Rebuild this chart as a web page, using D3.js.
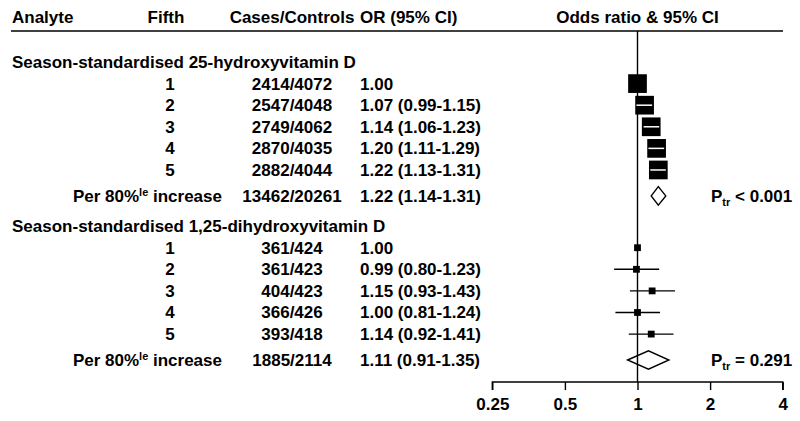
<!DOCTYPE html>
<html>
<head>
<meta charset="utf-8">
<script src="https://cdn.jsdelivr.net/npm/d3@7"></script>
<style>
  body { margin: 0; background: #fff; }
  text { font-family: "Liberation Sans", Arial, Helvetica, sans-serif; font-weight: bold; fill: #000; }
</style>
</head>
<body>
<div id="chart"></div>
<script>
// column headers
const headers = ["Analyte", "Fifth", "Cases/Controls", "OR (95% CI)", "Odds ratio & 95% CI"];
const tickValues = [0.25, 0.5, 1, 2, 4];
const tickLabels = ["0.25", "0.5", "1", "2", "4"];

// analyte names
const analytes = ["Season-standardised 25-hydroxyvitamin D", "Season-standardised 1,25-dihydroxyvitamin D"];
const fifths = ["1", "2", "3", "4", "5"];

// 25(OH)D by fifth
const cases25 = ["2414/4072", "2547/4048", "2749/4062", "2870/4035", "2882/4044"];
const or25 = [1.00, 1.07, 1.14, 1.20, 1.22];
const lo25 = [null, 0.99, 1.06, 1.11, 1.13];
const hi25 = [null, 1.15, 1.23, 1.29, 1.31];

// 1,25(OH)2D by fifth
const cases125 = ["361/424", "361/423", "404/423", "366/426", "393/418"];
const or125 = [1.00, 0.99, 1.15, 1.00, 1.14];
const lo125 = [null, 0.80, 0.93, 0.81, 0.92];
const hi125 = [null, 1.23, 1.43, 1.24, 1.41];

// per 80 percentile increase
const perCases = ["13462/20261", "1885/2114"];
const perOr = [1.22, 1.11];
const perLo = [1.14, 0.91];
const perHi = [1.31, 1.35];
const pTrend = ["< 0.001", "= 0.291"];

const width = 800, height = 421;
const svg = d3.select("#chart").append("svg")
    .attr("width", width)
    .attr("height", height);

const fs = 17;
const x = d3.scaleLog().base(2).domain([0.25, 4]).range([492.3, 782.7]);
// row slots -> pixels
const y = d3.scaleLinear().domain([0, 13.8]).range([62, 360]);
const colFifth = 170, colCases = 292, colOr = 360, colPerEnd = 222, colP = 711;
const f2 = d3.format(".2f");

// header
const hdr = svg.append("g");
hdr.append("text").attr("x", 12).attr("y", 23).attr("font-size", fs).text(headers[0]);
hdr.append("text").attr("x", 166).attr("y", 23).attr("text-anchor", "middle").attr("font-size", fs).text(headers[1]);
hdr.append("text").attr("x", colCases).attr("y", 23).attr("text-anchor", "middle").attr("font-size", fs).text(headers[2]);
hdr.append("text").attr("x", colOr).attr("y", 23).attr("font-size", fs).text(headers[3]);
hdr.append("text").attr("x", x(1)).attr("y", 23).attr("text-anchor", "middle").attr("font-size", fs).text(headers[4]);

svg.append("line")
    .attr("x1", 11).attr("x2", 783)
    .attr("y1", 31).attr("y2", 31)
    .attr("stroke", "#000").attr("stroke-width", 1.7);

// null line
svg.append("line")
    .attr("x1", x(1)).attr("x2", x(1))
    .attr("y1", 31).attr("y2", 382)
    .attr("stroke", "#000").attr("stroke-width", 1.4);

// axis
const axis = d3.axisBottom(x)
    .tickValues(tickValues)
    .tickSize(8)
    .tickFormat((d, i) => tickLabels[i]);
const ax = svg.append("g")
    .attr("transform", "translate(0,382)")
    .call(axis);
ax.select(".domain").attr("stroke-width", 1.4).attr("d", `M${x(0.25)},8V0H${x(4)}V8`);
ax.selectAll(".tick line").attr("stroke-width", 1.4);
ax.selectAll(".tick text")
    .attr("font-size", fs)
    .attr("font-family", "Liberation Sans, Arial, sans-serif")
    .attr("font-weight", "bold")
    .attr("dy", null)
    .attr("y", 28);

const groups = [
  { name: analytes[0], cases: cases25, or: or25, lo: lo25, hi: hi25, box: 18.7, start: 0 },
  { name: analytes[1], cases: cases125, or: or125, lo: lo125, hi: hi125, box: 6.8, start: 7.6 }
];

groups.forEach((g, gi) => {
  const gy = y(g.start);
  svg.append("text").attr("x", 12).attr("y", gy + 6).attr("font-size", fs).text(g.name);

  fifths.forEach((f, i) => {
    const ry = y(g.start + 1 + i);
    svg.append("text").attr("x", colFifth).attr("y", ry + 6).attr("text-anchor", "middle").attr("font-size", fs).text(f);
    svg.append("text").attr("x", colCases).attr("y", ry + 6).attr("text-anchor", "middle").attr("font-size", fs).text(g.cases[i]);
    const orTxt = g.lo[i] == null ? f2(g.or[i]) : `${f2(g.or[i])} (${f2(g.lo[i])}-${f2(g.hi[i])})`;
    svg.append("text").attr("x", colOr).attr("y", ry + 6).attr("font-size", fs).text(orTxt);

    const cx = x(g.or[i]);
    const half = g.box / 2;
    let inside = false;
    if (g.lo[i] != null) {
      inside = x(g.lo[i]) >= cx - half && x(g.hi[i]) <= cx + half;
      if (!inside) {
        svg.append("line")
          .attr("x1", x(g.lo[i])).attr("x2", x(g.hi[i]))
          .attr("y1", ry).attr("y2", ry)
          .attr("stroke", "#000").attr("stroke-width", 1.4);
      }
    }
    svg.append("rect")
      .attr("x", cx - half).attr("y", ry - half)
      .attr("width", g.box).attr("height", g.box)
      .attr("fill", "#000");
    if (inside) {
      svg.append("line")
        .attr("x1", x(g.lo[i])).attr("x2", x(g.hi[i]))
        .attr("y1", ry).attr("y2", ry)
        .attr("stroke", "#fff").attr("stroke-width", 1.5);
    }
  });

  // summary row
  const sy = y(g.start + 6.2);
  const per = svg.append("text").attr("x", colPerEnd).attr("y", sy + 6).attr("text-anchor", "end").attr("font-size", fs);
  per.append("tspan").text("Per 80%");
  per.append("tspan").attr("font-size", 11).attr("dy", -6).text("le");
  per.append("tspan").attr("dy", 6).text(" increase");
  svg.append("text").attr("x", colCases).attr("y", sy + 6).attr("text-anchor", "middle").attr("font-size", fs).text(perCases[gi]);
  svg.append("text").attr("x", colOr).attr("y", sy + 6).attr("font-size", fs)
    .text(`${f2(perOr[gi])} (${f2(perLo[gi])}-${f2(perHi[gi])})`);

  const dh = 9.2;
  svg.append("path")
    .attr("d", `M${x(perLo[gi])},${sy}L${x(perOr[gi])},${sy - dh}L${x(perHi[gi])},${sy}L${x(perOr[gi])},${sy + dh}Z`)
    .attr("fill", "none").attr("stroke", "#000").attr("stroke-width", 1.4);

  const pt = svg.append("text").attr("x", colP).attr("y", sy + 6).attr("font-size", fs);
  pt.append("tspan").text("P");
  pt.append("tspan").attr("font-size", 11).attr("dy", 4).text("tr");
  pt.append("tspan").attr("dy", -4).text(" " + pTrend[gi]);
});
</script>
</body>
</html>
